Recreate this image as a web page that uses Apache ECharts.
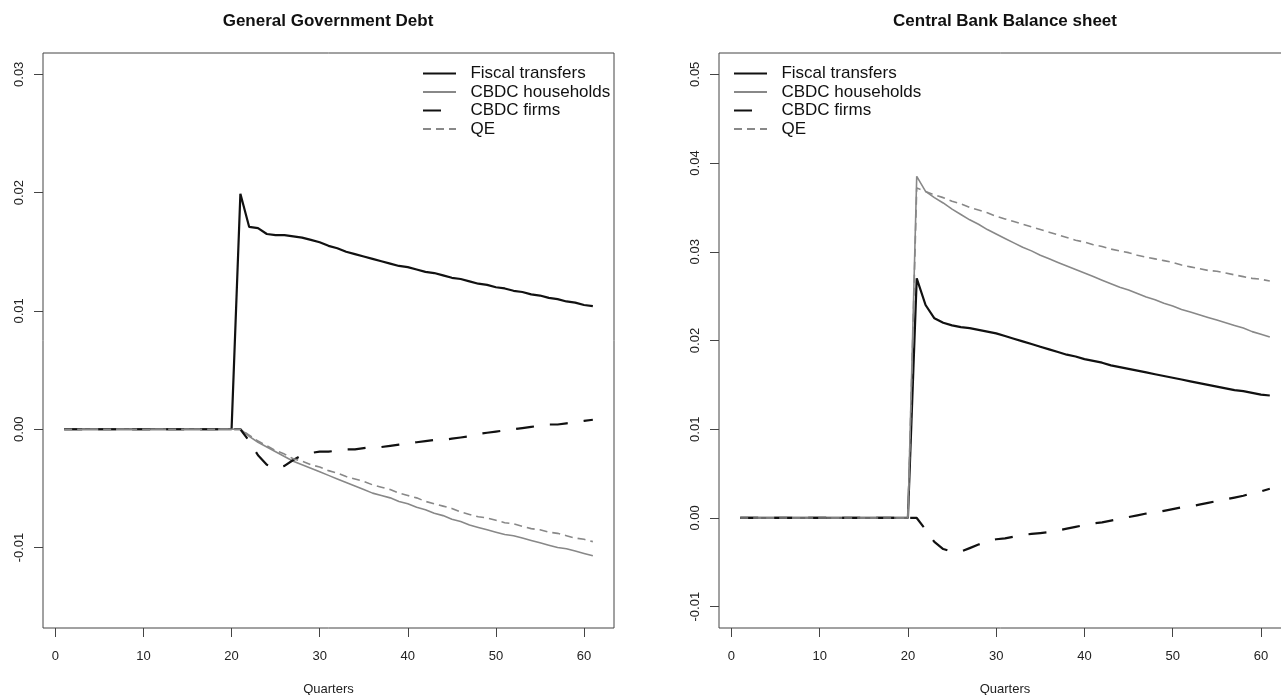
<!DOCTYPE html>
<html lang="en">
<head>
    <meta charset="UTF-8">
    <title>Debt and balance sheet</title>
    <script src="https://cdn.jsdelivr.net/npm/echarts@6.0.0/dist/echarts.min.js"></script>
    <style>
        html, body { margin: 0; padding: 0; background: #fff; }
        #main { width: 1281px; height: 695px; }
    </style>
</head>
<body>
<div id="main"></div>
<script>
    // quarters 1..61, shock hits in quarter 21
    var quarters = [1, 2, 3, 4, 5, 6, 7, 8, 9, 10, 11, 12, 13, 14, 15, 16, 17, 18, 19, 20,
        21, 22, 23, 24, 25, 26, 27, 28, 29, 30, 31, 32, 33, 34, 35, 36, 37, 38, 39, 40,
        41, 42, 43, 44, 45, 46, 47, 48, 49, 50, 51, 52, 53, 54, 55, 56, 57, 58, 59, 60, 61];

    var names = ['Fiscal transfers', 'CBDC households', 'CBDC firms', 'QE'];

    var xTicks = [0, 10, 20, 30, 40, 50, 60];
    var debtTicks = [-0.01, 0, 0.01, 0.02, 0.03];
    var cbTicks = [-0.01, 0, 0.01, 0.02, 0.03, 0.04, 0.05];

    var zeros = [0, 0, 0, 0, 0, 0, 0, 0, 0, 0, 0, 0, 0, 0, 0, 0, 0, 0, 0, 0];

    // General Government Debt
    var debtFiscal = zeros.concat([0.0199, 0.0171, 0.0170, 0.0165, 0.0164, 0.0164, 0.0163, 0.0162, 0.0160, 0.0158,
        0.0155, 0.0153, 0.0150, 0.0148, 0.0146, 0.0144, 0.0142, 0.0140, 0.0138, 0.0137,
        0.0135, 0.0133, 0.0132, 0.0130, 0.0128, 0.0127, 0.0125, 0.0123, 0.0122, 0.0120,
        0.0119, 0.0117, 0.0116, 0.0114, 0.0113, 0.0111, 0.0110, 0.0108, 0.0107, 0.0105, 0.0104]);
    var debtHouse = zeros.concat([0, -0.0006, -0.0011, -0.0015, -0.0019, -0.0023, -0.0027, -0.0030, -0.0033, -0.0036,
        -0.0039, -0.0042, -0.0045, -0.0048, -0.0051, -0.0054, -0.0056, -0.0058, -0.0061, -0.0063,
        -0.0066, -0.0068, -0.0071, -0.0073, -0.0076, -0.0078, -0.0081, -0.0083, -0.0085, -0.0087,
        -0.0089, -0.0090, -0.0092, -0.0094, -0.0096, -0.0098, -0.0100, -0.0101, -0.0103, -0.0105, -0.0107]);
    var debtFirms = zeros.concat([0, -0.0010, -0.0022, -0.0030, -0.0033, -0.0031, -0.0026, -0.0022, -0.0020, -0.0019,
        -0.0019, -0.0018, -0.0017, -0.0017, -0.0016, -0.0015, -0.0015, -0.0014, -0.0013, -0.0012,
        -0.0011, -0.0010, -0.0009, -0.0009, -0.0008, -0.0007, -0.0006, -0.0004, -0.0003, -0.0002,
        -0.0001, 0, 0.0001, 0.0002, 0.0003, 0.0004, 0.0004, 0.0005, 0.0006, 0.0007, 0.0008]);
    var debtQE = zeros.concat([0, -0.0005, -0.0010, -0.0014, -0.0018, -0.0021, -0.0025, -0.0027, -0.0030, -0.0032,
        -0.0035, -0.0037, -0.0040, -0.0042, -0.0044, -0.0047, -0.0049, -0.0051, -0.0054, -0.0056,
        -0.0058, -0.0061, -0.0063, -0.0065, -0.0067, -0.0070, -0.0072, -0.0074, -0.0075, -0.0077,
        -0.0079, -0.0080, -0.0082, -0.0084, -0.0085, -0.0087, -0.0088, -0.0090, -0.0092, -0.0093, -0.0095]);

    // Central Bank Balance sheet
    var cbFiscal = zeros.concat([0.0270, 0.0240, 0.0225, 0.0220, 0.0217, 0.0215, 0.0214, 0.0212, 0.0210, 0.0208,
        0.0205, 0.0202, 0.0199, 0.0196, 0.0193, 0.0190, 0.0187, 0.0184, 0.0182, 0.0179,
        0.0177, 0.0175, 0.0172, 0.0170, 0.0168, 0.0166, 0.0164, 0.0162, 0.0160, 0.0158,
        0.0156, 0.0154, 0.0152, 0.0150, 0.0148, 0.0146, 0.0144, 0.0143, 0.0141, 0.0139, 0.0138]);
    var cbHouse = zeros.concat([0.0385, 0.0368, 0.0361, 0.0355, 0.0348, 0.0342, 0.0336, 0.0331, 0.0325, 0.0320,
        0.0315, 0.0310, 0.0305, 0.0301, 0.0296, 0.0292, 0.0288, 0.0284, 0.0280, 0.0276,
        0.0272, 0.0268, 0.0264, 0.0260, 0.0257, 0.0253, 0.0249, 0.0246, 0.0242, 0.0239,
        0.0235, 0.0232, 0.0229, 0.0226, 0.0223, 0.0220, 0.0217, 0.0214, 0.0210, 0.0207, 0.0204]);
    var cbFirms = zeros.concat([0, -0.0013, -0.0027, -0.0035, -0.0038, -0.0038, -0.0034, -0.0030, -0.0026, -0.0024,
        -0.0023, -0.0021, -0.0019, -0.0018, -0.0017, -0.0016, -0.0014, -0.0012, -0.0010, -0.0008,
        -0.0006, -0.0005, -0.0003, -0.0001, 0.0001, 0.0003, 0.0005, 0.0006, 0.0008, 0.0010,
        0.0012, 0.0013, 0.0015, 0.0017, 0.0019, 0.0021, 0.0023, 0.0025, 0.0028, 0.0030, 0.0033]);
    var cbQE = zeros.concat([0.0372, 0.0368, 0.0364, 0.0361, 0.0357, 0.0354, 0.0350, 0.0347, 0.0344, 0.0340,
        0.0337, 0.0334, 0.0331, 0.0328, 0.0325, 0.0322, 0.0319, 0.0316, 0.0313, 0.0311,
        0.0308, 0.0306, 0.0303, 0.0301, 0.0299, 0.0296, 0.0294, 0.0292, 0.0290, 0.0288,
        0.0285, 0.0283, 0.0281, 0.0279, 0.0278, 0.0276, 0.0274, 0.0272, 0.0270, 0.0269, 0.0267]);

    var font = '"Liberation Sans", Arial, Helvetica, sans-serif';
    var styles = [
        {color: '#111', width: 2.2, type: 'solid'},
        {color: '#888', width: 1.6, type: 'solid'},
        {color: '#111', width: 2.2, type: [18, 16]},
        {color: '#888', width: 1.6, type: [8, 5]}
    ];

    function pairs(arr) {
        return quarters.map(function (q, i) { return [q, arr[i]]; });
    }

    function makeSeries(idx, list) {
        return list.map(function (arr, k) {
            return {
                name: names[k],
                type: 'line',
                xAxisIndex: idx,
                yAxisIndex: idx,
                data: pairs(arr),
                symbol: 'none',
                lineStyle: styles[k],
                itemStyle: {color: styles[k].color},
                emphasis: {disabled: true},
                z: 2 + k
            };
        });
    }

    function xAxis(idx) {
        return {
            gridIndex: idx,
            type: 'value',
            min: -1.4,
            max: 63.4,
            axisLine: {show: false, onZero: false},
            splitLine: {show: false},
            axisTick: {show: true, length: 9, customValues: xTicks, lineStyle: {color: '#444'}},
            axisLabel: {customValues: xTicks, color: '#222', fontSize: 13, fontFamily: font, margin: 22},
            name: 'Quarters',
            nameLocation: 'middle',
            nameGap: 55,
            nameTextStyle: {color: '#222', fontSize: 13, fontFamily: font}
        };
    }

    function yAxis(idx, min, max, ticks) {
        return {
            gridIndex: idx,
            type: 'value',
            min: min,
            max: max,
            axisLine: {show: false, onZero: false},
            splitLine: {show: false},
            axisTick: {show: true, length: 9, customValues: ticks, lineStyle: {color: '#444'}},
            axisLabel: {
                customValues: ticks, color: '#222', fontSize: 13, fontFamily: font, margin: 17, rotate: 90,
                formatter: function (v) { return v.toFixed(2); }
            }
        };
    }

    function legend(left) {
        return {
            left: left,
            top: 65,
            padding: 0,
            orient: 'vertical',
            itemWidth: 33,
            itemHeight: 17,
            itemGap: 1.5,
            data: names,
            selectedMode: false,
            // hide the marker the line legend draws on top of the line
            itemStyle: {color: 'transparent', borderColor: 'transparent', borderWidth: 0},
            formatter: function (n) { return '  ' + n; },
            textStyle: {color: '#111', fontSize: 17, lineHeight: 17, fontFamily: font}
        };
    }

    function grid(left, width) {
        return {
            left: left, top: 53, width: width, height: 575,
            outerBoundsMode: 'none',
            show: true, borderColor: '#444', borderWidth: 1, backgroundColor: 'transparent'
        };
    }

    var chart = echarts.init(document.getElementById('main'), null, {renderer: 'canvas'});
    chart.setOption({
        animation: false,
        backgroundColor: '#fff',
        title: [
            {text: 'General Government Debt', left: 323, top: 8, textAlign: 'center',
                textStyle: {fontSize: 17, fontWeight: 'bold', color: '#111', fontFamily: font}},
            {text: 'Central Bank Balance sheet', left: 1000, top: 8, textAlign: 'center',
                textStyle: {fontSize: 17, fontWeight: 'bold', color: '#111', fontFamily: font}}
        ],
        legend: [legend(422), legend(733)],
        grid: [grid(43, 571), grid(719, 572)],
        xAxis: [xAxis(0), xAxis(1)],
        yAxis: [yAxis(0, -0.0168, 0.0318, debtTicks), yAxis(1, -0.0124, 0.0524, cbTicks)],
        series: makeSeries(0, [debtFiscal, debtHouse, debtFirms, debtQE])
            .concat(makeSeries(1, [cbFiscal, cbHouse, cbFirms, cbQE]))
    });
</script>
</body>
</html>
